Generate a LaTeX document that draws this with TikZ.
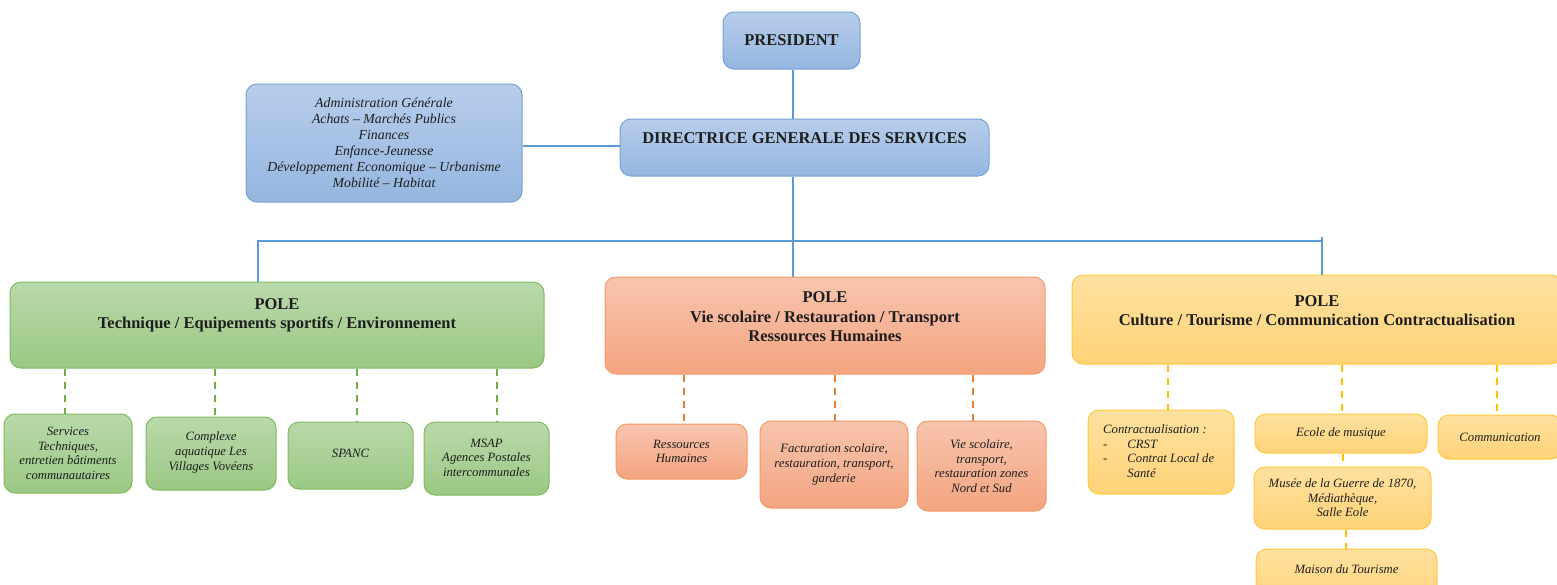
\documentclass[tikz,border=0pt]{standalone}
\usepackage{fontspec}
\setmainfont{Liberation Serif}
\definecolor{ink}{HTML}{1E1E1E}
\definecolor{blueT}{HTML}{B7CDEB}
\definecolor{blueB}{HTML}{95B6E0}
\definecolor{blueBd}{HTML}{74A2D6}
\definecolor{connBlue}{HTML}{5B9BD5}
\definecolor{greenT}{HTML}{B9D9AB}
\definecolor{greenB}{HTML}{9BC884}
\definecolor{greenBd}{HTML}{7FBA5C}
\definecolor{greenD}{HTML}{70AD47}
\definecolor{orangeT}{HTML}{F7C5AE}
\definecolor{orangeB}{HTML}{F4A480}
\definecolor{orangeBd}{HTML}{F2996A}
\definecolor{orangeD}{HTML}{ED7D31}
\definecolor{yellowT}{HTML}{FFE1A0}
\definecolor{yellowB}{HTML}{FFD378}
\definecolor{yellowBd}{HTML}{FFC83C}
\definecolor{yellowD}{HTML}{FFC000}
\tikzset{
  base/.style={rounded corners=11pt, line width=1pt, inner sep=0pt},
  bluebox/.style={base, draw=blueBd, top color=blueT, bottom color=blueB},
  greenbox/.style={base, draw=greenBd, top color=greenT, bottom color=greenB},
  orangebox/.style={base, draw=orangeBd, top color=orangeT, bottom color=orangeB},
  yellowbox/.style={base, draw=yellowBd, top color=yellowT, bottom color=yellowB},
  conn/.style={draw=connBlue, line width=2.6pt},
  gdash/.style={draw=greenD, line width=2pt, dash pattern=on 7pt off 6pt},
  odash/.style={draw=orangeD, line width=2pt, dash pattern=on 7pt off 6pt},
  ydash/.style={draw=yellowD, line width=2pt, dash pattern=on 7pt off 6pt},
  hdr/.style={font=\fontsize{16.5}{19.5}\selectfont\bfseries, align=center, inner sep=0pt, text=ink},
  admtxt/.style={font=\fontsize{13.8}{16}\selectfont\itshape, align=center, inner sep=0pt, text=ink},
  sm/.style={font=\fontsize{12.7}{14.6}\selectfont\itshape, align=center, inner sep=0pt, text=ink},
}
% #1 name, #2 x1, #3 y1, #4 x2, #5 y2, #6 box style, #7 text style, #8 dy, #9 text
\newcommand\mkbox[9]{%
  \node[#6, minimum width={(#4)-(#2)}, minimum height={(#5)-(#3)}] (#1) at ({((#2)+(#4))/2},{((#3)+(#5))/2}) {};
  \node[#7] (#1-t) at ([yshift=#8pt]#1.center) {#9};}
\begin{document}
\begin{tikzpicture}[x=1pt,y=-1pt]
\useasboundingbox (0,0) rectangle (1557,584);
% top
\mkbox{pres}{723}{12}{860}{69}{bluebox}{hdr}{0}{PRESIDENT}
\mkbox{dgs}{620}{119}{989}{176}{bluebox}{hdr}{9.5}{DIRECTRICE GENERALE DES SERVICES}
\mkbox{adm}{246}{84}{522}{202}{bluebox}{admtxt}{0}{Administration Générale\\Achats – Marchés Publics\\Finances\\Enfance-Jeunesse\\Développement Economique – Urbanisme\\Mobilité – Habitat}
% poles
\mkbox{pg}{10}{282}{544}{368}{greenbox}{hdr}{9.5}{POLE\\Technique / Equipements sportifs / Environnement}
\mkbox{po}{605}{277}{1045}{374}{orangebox}{hdr}{8.5}{POLE\\Vie scolaire / Restauration / Transport\\Ressources Humaines}
\mkbox{py}{1072}{275}{1562}{364}{yellowbox}{hdr}{9}{POLE\\Culture / Tourisme / Communication Contractualisation}
% green children
\mkbox{g1}{4}{414}{132}{493}{greenbox}{sm}{0}{Services\\Techniques,\\entretien bâtiments\\communautaires}
\mkbox{g2}{146}{417}{276}{490}{greenbox}{sm}{1}{Complexe\\aquatique Les\\Villages Vovéens}
\mkbox{g3}{288}{422}{413}{489}{greenbox}{sm}{2.5}{SPANC}
\mkbox{g4}{424}{422}{549}{495}{greenbox}{sm}{1}{MSAP\\Agences Postales\\intercommunales}
% orange children
\mkbox{o1}{616}{424}{747}{479}{orangebox}{sm}{0}{Ressources\\Humaines}
\mkbox{o2}{760}{421}{908}{508}{orangebox}{sm}{0}{Facturation scolaire,\\restauration, transport,\\garderie}
\mkbox{o3}{917}{421}{1046}{511}{orangebox}{sm}{0}{Vie scolaire,\\transport,\\restauration zones\\Nord et Sud}
% yellow children
\mkbox{y1}{1088}{410}{1234}{494}{yellowbox}{sm}{0}{}
\node[sm, anchor=west, align=left] (y1-list) at (1103,452.5) {\begin{tabular}{@{}l@{\hspace{20pt}}l@{}}\multicolumn{2}{@{}l@{}}{Contractualisation :}\\ - & CRST\\ - & Contrat Local de\\ & Santé\end{tabular}};
\mkbox{y2}{1255}{414}{1427}{453}{yellowbox}{sm}{0}{Ecole de musique}
\mkbox{y3}{1438}{415}{1562}{459}{yellowbox}{sm}{0}{Communication}
\mkbox{y4}{1254}{467}{1431}{529}{yellowbox}{sm}{0}{Musée de la Guerre de 1870,\\Médiathèque,\\Salle Eole}
\mkbox{y5}{1256}{549}{1437}{605}{yellowbox}{sm}{8}{Maison du Tourisme}
% blue connectors
\coordinate (busL) at (258,241);
\coordinate (busM) at (793,241);
\coordinate (busR) at (1322,241);
\draw[conn] (pres.south -| busM) -- (dgs.north -| busM);
\draw[conn] (adm.east |- 0,146) -- (dgs.west |- 0,146);
\draw[conn] (dgs.south -| busM) -- (busM);
\draw[conn] (pg.north -| busL) -- (busL) -- (busR) -- (py.north -| busR);
\draw[conn] (busR) -- ++(0,-4);
\draw[conn] (busM) -- (po.north -| busM);
% dashed connectors
\draw[gdash] (pg.south -| 65,0) -- (g1.north -| 65,0);
\draw[gdash] (pg.south -| 215,0) -- (g2.north -| 215,0);
\draw[gdash] (pg.south -| 357,0) -- (g3.north -| 357,0);
\draw[gdash] (pg.south -| 497,0) -- (g4.north -| 497,0);
\draw[odash] (po.south -| 684,0) -- (o1.north -| 684,0);
\draw[odash] (po.south -| 835,0) -- (o2.north -| 835,0);
\draw[odash] (po.south -| 973,0) -- (o3.north -| 973,0);
\draw[ydash] (py.south -| 1168,0) -- (y1.north -| 1168,0);
\draw[ydash] (py.south -| 1342,0) -- (y2.north -| 1342,0);
\draw[ydash] (py.south -| 1497,0) -- (y3.north -| 1497,0);
\draw[ydash] (y2.south -| 1343,0) -- (y4.north -| 1343,0);
\draw[ydash] (y4.south -| 1346,0) -- (y5.north -| 1346,0);
\end{tikzpicture}
\end{document}
